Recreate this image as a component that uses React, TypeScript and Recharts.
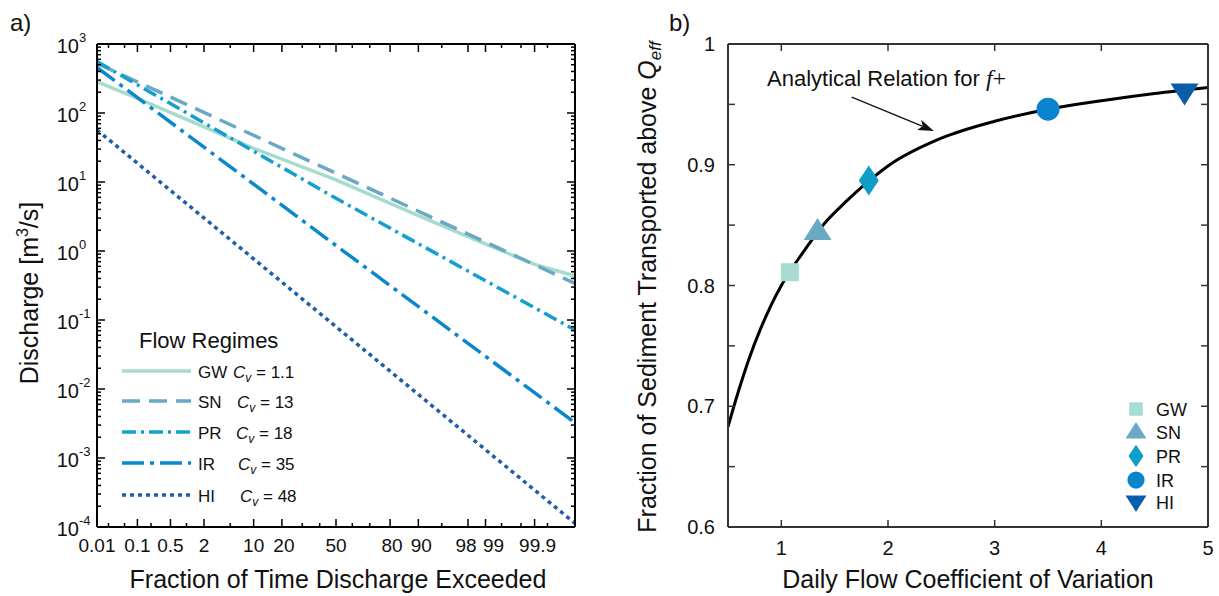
import React from "react";
import { LineChart, Line, XAxis, YAxis, ComposedChart, Scatter, ReferenceLine } from "recharts";

// ---- panel a) flow duration curves, exceedance % vs discharge (m3/s) ----
const gwPct = [0.01, 0.1, 2, 10, 50, 90, 98, 99.9, 99.99];
const gwQ = [284, 163, 63, 30.8, 10.7, 3.26, 1.61, 0.64, 0.435];
const snPct = [0.01, 50, 99.99];
const snQ = [525, 13.4, 0.34];
const prPct = [0.01, 50, 99.99];
const prQ = [555, 5.8, 0.0716];
const irPct = [0.01, 50, 99.99];
const irQ = [457, 1.2, 0.00325];
const hiPct = [0.01, 50, 99.99];
const hiQ = [56.8, 0.08, 0.000113];

const regimes = ["GW", "SN", "PR", "IR", "HI"];
const cvLabels = ["1.1", "13", "18", "35", "48"];
const lineColors = ["#a6dccd", "#6aa8c6", "#13a0cf", "#0b87cc", "#1d5fa9"];
const lineDash = ["", "18 9", "14 5 3 5", "22 6 4 6", "4 4"];

const xMajor = [0.01, 0.1, 0.5, 2, 10, 20, 50, 80, 90, 98, 99, 99.9];
const xLabelShift = [0, 0, 0, 0, 0, 2, 0, 2, 3, -2, 8, 3];
const xMinor = [0.02, 0.05, 0.2, 1, 5, 30, 40, 60, 70, 95, 99.5, 99.8, 99.95, 99.99];
const decades = [1e-4, 1e-3, 1e-2, 1e-1, 1, 1e1, 1e2, 1e3];
const minorMult = [2, 3, 4, 5, 6, 7, 8, 9];

// ---- panel b) fraction of sediment above Qeff vs daily flow Cv ----
const curveCv = [0.5, 0.6, 0.7, 0.8, 0.9, 1.0, 1.2, 1.4, 1.6, 1.8, 2.0, 2.5, 3.0, 3.5, 4.0, 4.5, 5.0];
const curveF = [0.683, 0.713, 0.740, 0.763, 0.783, 0.800, 0.827, 0.851, 0.869, 0.885, 0.899, 0.922, 0.936, 0.946, 0.953, 0.959, 0.964];
const regimeCv = [1.08, 1.34, 1.82, 3.5, 4.78];
const regimeF = [0.811, 0.845, 0.887, 0.946, 0.96];
const markerKind = ["square", "triangle", "diamond", "circle", "down"];
const markerColors = ["#a8dcd0", "#6aa9c4", "#0e9dc6", "#0a84cc", "#0a5ea8"];
const bXTicks = [1, 2, 3, 4, 5];
const bYTicks = [0.6, 0.65, 0.7, 0.75, 0.8, 0.85, 0.9, 0.95, 1];
const arrowFrom = [1.66, 0.956];
const arrowTo = [2.43, 0.928];

// inverse normal CDF (probability axis)
function probit(p: number) {
  const a = [-39.69683028665376, 220.9460984245205, -275.9285104469687, 138.357751867269, -30.66479806614716, 2.506628277459239];
  const b = [-54.47609879822406, 161.5858368580409, -155.6989798598866, 66.80131188771972, -13.28068155288572];
  const c = [-0.007784894002430293, -0.3223964580411365, -2.400758277161838, -2.549671010466439, 4.374664141464968, 2.938163982698783];
  const d = [0.007784695709041462, 0.3224671290700398, 2.445134137142996, 3.754408661907416];
  const pl = 0.02425;
  if (p < pl) {
    const q = Math.sqrt(-2 * Math.log(p));
    return (((((c[0] * q + c[1]) * q + c[2]) * q + c[3]) * q + c[4]) * q + c[5]) / ((((d[0] * q + d[1]) * q + d[2]) * q + d[3]) * q + 1);
  }
  if (p <= 1 - pl) {
    const q = p - 0.5;
    const r = q * q;
    return ((((((a[0] * r + a[1]) * r + a[2]) * r + a[3]) * r + a[4]) * r + a[5]) * q) / (((((b[0] * r + b[1]) * r + b[2]) * r + b[3]) * r + b[4]) * r + 1);
  }
  const q = Math.sqrt(-2 * Math.log(1 - p));
  return -(((((c[0] * q + c[1]) * q + c[2]) * q + c[3]) * q + c[4]) * q + c[5]) / ((((d[0] * q + d[1]) * q + d[2]) * q + d[3]) * q + 1);
}
const zOf = (pct: number) => probit(pct / 100);

const toSeries = (pct: number[], q: number[]) => pct.map((p, i) => ({ z: zOf(p), q: q[i] }));
const seriesA = [toSeries(gwPct, gwQ), toSeries(snPct, snQ), toSeries(prPct, prQ), toSeries(irPct, irQ), toSeries(hiPct, hiQ)];

const xDomain = [zOf(0.01), zOf(99.99)];
const xTicks = [...xMajor, ...xMinor].map(zOf);
const yTicks = [...decades, ...decades.slice(0, -1).flatMap((d) => minorMult.map((m) => m * d))];

const curveData = curveCv.map((cv, i) => ({ cv, f: curveF[i] }));
const pointData = regimes.map((name, i) => ({ cv: regimeCv[i], f: regimeF[i], name, i }));

const FONT = "'Liberation Sans', Arial, Helvetica, sans-serif";

function ProbTick({ x, y, payload, top }: any) {
  const idx = xMajor.findIndex((p) => Math.abs(zOf(p) - payload.value) < 1e-9);
  const len = idx >= 0 ? 8 : 4;
  return (
    <g>
      <line x1={x} x2={x} y1={y} y2={top ? y + len : y - len} stroke="#000" strokeWidth={1.5} />
      {!top && idx >= 0 && (
        <text x={x + xLabelShift[idx]} y={y + 25} textAnchor="middle" fontSize={19} fill="#111">
          {String(xMajor[idx])}
        </text>
      )}
    </g>
  );
}

function LogTick({ x, y, payload, right }: any) {
  const e = Math.log10(payload.value);
  const major = Math.abs(e - Math.round(e)) < 1e-6;
  const len = major ? 8 : 4;
  return (
    <g>
      <line x1={x} x2={right ? x - len : x + len} y1={y} y2={y} stroke="#000" strokeWidth={1.5} />
      {!right && major && (
        <g fill="#111">
          <text x={x - 18} y={y + 9} textAnchor="end" fontSize={20}>10</text>
          <text x={x - 18} y={y - 2} fontSize={13}>{String(Math.round(e))}</text>
        </g>
      )}
    </g>
  );
}

function LinTickX({ x, y, payload, top }: any) {
  return (
    <g>
      <line x1={x} x2={x} y1={y} y2={top ? y + 7 : y - 7} stroke="#333" strokeWidth={1.5} />
      {!top && (
        <text x={x} y={y + 28} textAnchor="middle" fontSize={20} fill="#111">
          {String(payload.value)}
        </text>
      )}
    </g>
  );
}

function LinTickY({ x, y, payload, right }: any) {
  const v = payload.value;
  const labeled = Math.abs(v * 10 - Math.round(v * 10)) < 1e-6;
  return (
    <g>
      <line x1={x} x2={right ? x - 7 : x + 7} y1={y} y2={y} stroke="#333" strokeWidth={1.5} />
      {!right && labeled && (
        <text x={x - 13} y={y + 7} textAnchor="end" fontSize={20} fill="#111">
          {v === 1 ? "1" : v.toFixed(1)}
        </text>
      )}
    </g>
  );
}

function Marker({ kind, cx, cy, k, color }: any) {
  if (kind === "square") {
    const s = 18 * k;
    return <rect x={cx - s / 2} y={cy - s / 2} width={s} height={s} fill={color} />;
  }
  if (kind === "triangle") {
    const w = 28 * k, h = 22 * k;
    return <polygon points={`${cx},${cy - h * 0.6} ${cx - w / 2},${cy + h * 0.4} ${cx + w / 2},${cy + h * 0.4}`} fill={color} />;
  }
  if (kind === "down") {
    const w = 28 * k, h = 22 * k;
    return <polygon points={`${cx},${cy + h * 0.6} ${cx - w / 2},${cy - h * 0.4} ${cx + w / 2},${cy - h * 0.4}`} fill={color} />;
  }
  if (kind === "diamond") {
    const w = 20 * k, h = 30 * k;
    return <polygon points={`${cx},${cy - h / 2} ${cx + w / 2},${cy} ${cx},${cy + h / 2} ${cx - w / 2},${cy}`} fill={color} />;
  }
  return <circle cx={cx} cy={cy} r={11.5 * k} fill={color} />;
}

function ArrowShape({ x1, y1, x2, y2 }: any) {
  const ang = Math.atan2(y2 - y1, x2 - x1);
  const L = 16, W = 5.5;
  const bx = x2 - L * Math.cos(ang), by = y2 - L * Math.sin(ang);
  const nx = -Math.sin(ang) * W, ny = Math.cos(ang) * W;
  const mx = x2 - L * 0.75 * Math.cos(ang), my = y2 - L * 0.75 * Math.sin(ang);
  return (
    <g>
      <line x1={x1} y1={y1} x2={mx} y2={my} stroke="#111" strokeWidth={1.3} />
      <polygon points={`${x2},${y2} ${bx + nx},${by + ny} ${mx},${my} ${bx - nx},${by - ny}`} fill="#111" />
    </g>
  );
}

const legendRowsY = [371, 401, 432, 463, 495];
const legendCvX = [233, 237, 236, 238, 240];
const bLegendY = [409, 432, 456, 480, 502];

const axisA = { stroke: "#000", strokeWidth: 2 };
const axisB = { stroke: "#333", strokeWidth: 2 };

export default function App() {
  return (
    <div style={{ position: "absolute", left: 0, top: 0, width: 1219, height: 596, background: "#fff", fontFamily: FONT, overflow: "hidden" }}>
      <div style={{ position: "absolute", left: 0, top: 0 }}>
        <LineChart width={600} height={596} margin={{ top: 34, right: 15, bottom: 29, left: 37 }}>
          <XAxis xAxisId="b" type="number" dataKey="z" domain={xDomain} allowDataOverflow ticks={xTicks} interval={0}
            height={40} tickSize={0} tickMargin={0} axisLine={axisA} tickLine={false}
            tick={(p: any) => <ProbTick {...p} />} />
          <XAxis xAxisId="t" orientation="top" type="number" dataKey="z" domain={xDomain} allowDataOverflow ticks={xTicks} interval={0}
            height={10} tickSize={0} tickMargin={0} axisLine={axisA} tickLine={false}
            tick={(p: any) => <ProbTick {...p} top />} />
          <YAxis yAxisId="l" type="number" scale="log" domain={[1e-4, 1e3]} allowDataOverflow ticks={yTicks} interval={0}
            width={60} tickSize={0} tickMargin={0} axisLine={axisA} tickLine={false}
            tick={(p: any) => <LogTick {...p} />} />
          <YAxis yAxisId="r" orientation="right" type="number" scale="log" domain={[1e-4, 1e3]} allowDataOverflow ticks={yTicks} interval={0}
            width={10} tickSize={0} tickMargin={0} axisLine={axisA} tickLine={false}
            tick={(p: any) => <LogTick {...p} right />} />
          {seriesA.map((data, i) => (
            <Line key={regimes[i]} xAxisId="b" yAxisId="l" data={data} dataKey="q" type="linear"
              stroke={lineColors[i]} strokeWidth={3.5} strokeDasharray={lineDash[i] || undefined}
              dot={false} activeDot={false} isAnimationActive={false} />
          ))}
        </LineChart>
      </div>

      <div style={{ position: "absolute", left: 620, top: 0 }}>
        <ComposedChart width={599} height={596} margin={{ top: 34, right: 1, bottom: 29, left: 48 }}>
          <XAxis xAxisId="b" type="number" dataKey="cv" domain={[0.5, 5]} allowDataOverflow ticks={bXTicks} interval={0}
            height={40} tickSize={0} tickMargin={0} axisLine={axisB} tickLine={false}
            tick={(p: any) => <LinTickX {...p} />} />
          <XAxis xAxisId="t" orientation="top" type="number" dataKey="cv" domain={[0.5, 5]} allowDataOverflow ticks={bXTicks} interval={0}
            height={10} tickSize={0} tickMargin={0} axisLine={axisB} tickLine={false}
            tick={(p: any) => <LinTickX {...p} top />} />
          <YAxis yAxisId="l" type="number" domain={[0.6, 1]} allowDataOverflow ticks={bYTicks} interval={0}
            width={60} tickSize={0} tickMargin={0} axisLine={axisB} tickLine={false}
            tick={(p: any) => <LinTickY {...p} />} />
          <YAxis yAxisId="r" orientation="right" type="number" domain={[0.6, 1]} allowDataOverflow ticks={bYTicks} interval={0}
            width={10} tickSize={0} tickMargin={0} axisLine={axisB} tickLine={false}
            tick={(p: any) => <LinTickY {...p} right />} />
          <Line xAxisId="b" yAxisId="l" data={curveData} dataKey="f" type="monotone" stroke="#000" strokeWidth={3}
            dot={false} activeDot={false} isAnimationActive={false} />
          <Scatter xAxisId="b" yAxisId="l" data={pointData} dataKey="f" isAnimationActive={false}
            shape={(p: any) => <Marker kind={markerKind[p.payload.i]} cx={p.cx} cy={p.cy} k={1} color={markerColors[p.payload.i]} />} />
          <ReferenceLine xAxisId="b" yAxisId="l" segment={[{ x: arrowFrom[0], y: arrowFrom[1] }, { x: arrowTo[0], y: arrowTo[1] }]}
            shape={(p: any) => <ArrowShape {...p} />} />
        </ComposedChart>
      </div>

      <svg width={1219} height={596} style={{ position: "absolute", left: 0, top: 0, pointerEvents: "none", fontFamily: FONT }}>
        <text x={10} y={31} fontSize={24} fill="#111">a)</text>
        <text x={669} y={31} fontSize={24} fill="#111">b)</text>

        <text transform="translate(38,293) rotate(-90)" textAnchor="middle" fontSize={25} fill="#111">
          Discharge [m<tspan dy={-10} fontSize={16}>3</tspan><tspan dy={10}>/s]</tspan>
        </text>
        <text x={338} y={588} textAnchor="middle" fontSize={25} fill="#111">Fraction of Time Discharge Exceeded</text>

        <text transform="translate(656,287) rotate(-90)" textAnchor="middle" fontSize={25} fill="#111">
          Fraction of Sediment Transported above <tspan fontStyle="italic">Q</tspan>
          <tspan dy={5} fontSize={17} fontStyle="italic">eff</tspan>
        </text>
        <text x={968} y={588} textAnchor="middle" fontSize={25} fill="#111">Daily Flow Coefficient of Variation</text>

        <text x={767} y={86} fontSize={22} fill="#111">
          Analytical Relation for <tspan fontFamily="'Liberation Serif', serif" fontStyle="italic" fontSize={24}>f</tspan>
          <tspan fontFamily="'Liberation Serif', serif" fontSize={24}>+</tspan>
        </text>

        <text x={139} y={348} fontSize={22} fill="#111">Flow Regimes</text>
        {regimes.map((r, i) => (
          <g key={r}>
            <line x1={122} x2={191} y1={legendRowsY[i]} y2={legendRowsY[i]} stroke={lineColors[i]} strokeWidth={3.5}
              strokeDasharray={lineDash[i] || undefined} />
            <text x={198} y={legendRowsY[i] + 7} fontSize={17} fill="#111">{r}</text>
            <text x={legendCvX[i]} y={legendRowsY[i] + 7} fontSize={17} fill="#111">
              <tspan fontStyle="italic">C</tspan>
              <tspan dy={4} fontSize={12} fontStyle="italic">v</tspan>
              <tspan dy={-4}> = {cvLabels[i]}</tspan>
            </text>
          </g>
        ))}

        {regimes.map((r, i) => (
          <g key={"b" + r}>
            <Marker kind={markerKind[i]} cx={1136} cy={bLegendY[i]} k={0.75} color={markerColors[i]} />
            <text x={1156} y={bLegendY[i] + 6.5} fontSize={18} fill="#111">{r}</text>
          </g>
        ))}
      </svg>
    </div>
  );
}
